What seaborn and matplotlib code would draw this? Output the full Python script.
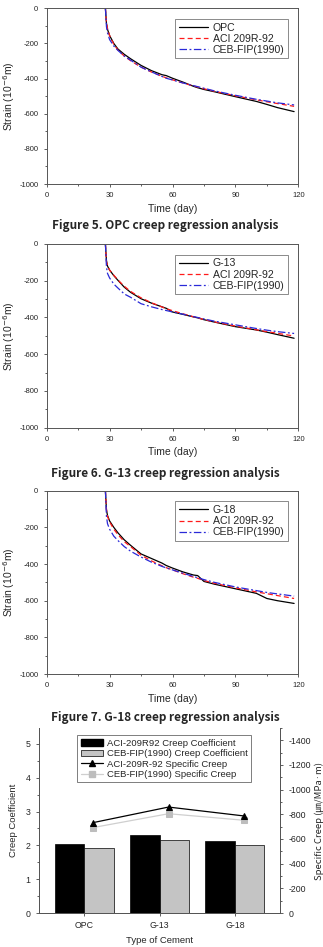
import numpy as np
import pandas as pd
import matplotlib
matplotlib.use("Agg")
import matplotlib.pyplot as plt
from matplotlib.ticker import MultipleLocator
from matplotlib.lines import Line2D
from matplotlib.patches import Patch
import seaborn as sns

# ---- creep regression data (strain, 10^-6) ----
t_days = [28, 28.5, 29, 30, 32, 34, 37, 40, 45, 50, 55, 57, 60, 65, 70, 72, 75, 80, 90, 100, 105, 110, 118]

opc_exp = [0, -85, -120, -155, -200, -232, -262, -287, -325, -355, -378, -383, -398, -420, -444, -452, -462, -475, -503, -530, -547, -565, -588]
opc_aci = [0, -80, -115, -155, -205, -238, -272, -298, -335, -363, -387, -396, -407, -425, -442, -448, -458, -472, -498, -521, -532, -542, -558]
opc_ceb = [0, -105, -140, -178, -215, -240, -272, -295, -335, -362, -388, -398, -408, -425, -440, -446, -455, -470, -495, -518, -528, -538, -550]

g13_exp = [0, -90, -120, -142, -172, -198, -235, -263, -298, -322, -342, -350, -370, -383, -397, -402, -412, -425, -450, -468, -480, -493, -513]
g13_aci = [0, -95, -118, -142, -170, -196, -230, -258, -293, -320, -343, -352, -363, -380, -396, -402, -411, -424, -447, -467, -477, -486, -501]
g13_ceb = [0, -125, -160, -185, -218, -240, -272, -290, -325, -342, -357, -362, -370, -382, -395, -400, -408, -420, -440, -460, -469, -477, -487]

g18_exp = [0, -105, -135, -165, -200, -230, -268, -298, -345, -370, -395, -408, -422, -443, -460, -463, -495, -510, -535, -560, -588, -600, -615]
g18_aci = [0, -100, -140, -170, -210, -240, -278, -305, -352, -383, -410, -420, -432, -453, -472, -478, -490, -505, -530, -552, -562, -572, -588]
g18_ceb = [0, -140, -180, -210, -248, -272, -305, -330, -362, -390, -413, -421, -432, -450, -468, -475, -485, -500, -525, -545, -555, -563, -575]

# ---- summary bar chart data ----
cements = ["OPC", "G-13", "G-18"]
coef_aci = [2.03, 2.32, 2.14]
coef_ceb = [1.92, 2.17, 2.02]
spec_aci = [-733, -859, -787]
spec_ceb = [-693, -805, -752]

sns.set_style("white")
plt.rcParams["font.family"] = ["Liberation Sans", "Noto Sans CJK KR", "DejaVu Sans"]
plt.rcParams["axes.unicode_minus"] = False

fig = plt.figure(figsize=(3.23, 9.47), dpi=100)
W, H = 323.0, 947.0
narrow = ["Liberation Sans Narrow", "Liberation Sans"]


def creep_panel(rect, exp_name, exp_vals, aci_vals, ceb_vals):
    ax = fig.add_axes(rect)
    series = [
        (exp_name, exp_vals, "black", "-"),
        ("ACI 209R-92", aci_vals, "#ff1a1a", (0, (4, 2.5))),
        ("CEB-FIP(1990)", ceb_vals, "#2a2ad8", (0, (6, 2, 1.5, 2))),
    ]
    for name, vals, col, ls in series:
        df = pd.DataFrame({"t": t_days, "strain": vals})
        sns.lineplot(data=df, x="t", y="strain", color=col, linestyle=ls,
                     linewidth=0.9, label=name, ax=ax)
    ax.set_xlim(0, 120)
    ax.set_ylim(-1000, 0)
    ax.xaxis.set_major_locator(MultipleLocator(30))
    ax.xaxis.set_minor_locator(MultipleLocator(15))
    ax.yaxis.set_major_locator(MultipleLocator(200))
    ax.yaxis.set_minor_locator(MultipleLocator(100))
    ax.tick_params(which="both", direction="out", top=False, right=False,
                   bottom=True, left=True, labelsize=5.5, width=0.6, color="#444444")
    ax.tick_params(which="major", length=2.5)
    ax.tick_params(which="minor", length=1.5)
    for s in ax.spines.values():
        s.set_linewidth(0.7)
        s.set_color("#555555")
    ax.set_xlabel("Time (day)", fontsize=7.5, labelpad=3)
    ax.set_ylabel("Strain (10$^{-6}$m)", fontsize=7.5)
    ax.yaxis.set_label_coords(-0.118, 0.5)
    leg = ax.legend(loc="upper right", bbox_to_anchor=(0.98, 0.97), fontsize=7.6,
                    frameon=True, fancybox=False, handlelength=2.8,
                    borderpad=0.35, labelspacing=0.1, handletextpad=0.4)
    leg.get_frame().set_edgecolor("#555555")
    leg.get_frame().set_linewidth(0.6)
    return ax


creep_panel([46.7 / W, 1 - 184 / H, 251.6 / W, 175.7 / H], "OPC", opc_exp, opc_aci, opc_ceb)
creep_panel([46.7 / W, 1 - 427.7 / H, 251.6 / W, 183.7 / H], "G-13", g13_exp, g13_aci, g13_ceb)
creep_panel([46.7 / W, 1 - 674 / H, 251.6 / W, 183.3 / H], "G-18", g18_exp, g18_aci, g18_ceb)

cap_kw = dict(ha="center", va="center", fontsize=8.5, fontweight="bold",
              family=["Noto Sans CJK KR", "DejaVu Sans"])
fig.text(165 / W, 1 - 226 / H, "Figure 5. OPC creep regression analysis", **cap_kw)
fig.text(165 / W, 1 - 474 / H, "Figure 6. G-13 creep regression analysis", **cap_kw)
fig.text(165 / W, 1 - 717 / H, "Figure 7. G-18 creep regression analysis", **cap_kw)

# ---- bar chart with specific creep on twin axis ----
ax = fig.add_axes([39 / W, 1 - 913 / H, 241 / W, 185 / H])
bars = pd.DataFrame({
    "cement": cements * 2,
    "coef": coef_aci + coef_ceb,
    "model": ["ACI-209R92 Creep Coefficient"] * 3 + ["CEB-FIP(1990) Creep Coefficient"] * 3,
})
sns.barplot(data=bars, x="cement", y="coef", hue="model",
            palette=["black", "#c4c4c4"], edgecolor="black", linewidth=0.5,
            width=0.78, legend=False, ax=ax)
ax.set_xlim(-0.6, 2.6)
ax.set_ylim(0, 5.47)
ax.yaxis.set_major_locator(MultipleLocator(1))
ax.yaxis.set_minor_locator(MultipleLocator(0.5))
ax.tick_params(which="both", direction="out", left=True, bottom=True,
               labelsize=6.3, width=0.6, color="#444444")
ax.tick_params(which="major", length=2.5)
ax.tick_params(which="minor", length=1.5)
ax.set_xlabel("Type of Cement", fontsize=6.8, family=narrow)
ax.xaxis.set_label_coords(0.5, -0.125)
ax.set_ylabel("Creep Coefficient", fontsize=6.8, family=narrow)
ax.yaxis.set_label_coords(-0.088, 0.5)
ax.spines["top"].set_visible(False)

ax2 = ax.twinx()
xpos = np.arange(len(cements)) + 0.12
sns.lineplot(x=xpos, y=spec_ceb, color="#cfcfcf", marker="s", markersize=4.5,
             markeredgecolor="#bdbdbd", markerfacecolor="#bdbdbd", linewidth=0.9, ax=ax2)
sns.lineplot(x=xpos, y=spec_aci, color="black", marker="^", markersize=5,
             markeredgecolor="black", linewidth=0.9, ax=ax2)
ax2.set_ylim(0, -1500)
ax2.yaxis.set_major_locator(MultipleLocator(200))
ax2.yaxis.set_minor_locator(MultipleLocator(100))
ax2.tick_params(which="both", direction="out", right=True, labelsize=6.3,
                width=0.6, color="#444444")
ax2.tick_params(which="major", length=2.5)
ax2.tick_params(which="minor", length=1.5)
ax2.set_ylabel("Specific Creep (㎛/MPa·m)", fontsize=6.8, rotation=90,
               family=["Liberation Sans Narrow", "Noto Sans CJK KR"])
ax2.yaxis.set_label_coords(1.145, 0.5)
ax2.spines["top"].set_visible(False)
for a in (ax, ax2):
    for s in a.spines.values():
        s.set_linewidth(0.7)
        s.set_color("#555555")

handles = [
    Patch(facecolor="black", edgecolor="black", label="ACI-209R92 Creep Coefficient"),
    Patch(facecolor="#c4c4c4", edgecolor="black", linewidth=0.5, label="CEB-FIP(1990) Creep Coefficient"),
    Line2D([], [], color="black", marker="^", markersize=5, linewidth=0.9, label="ACI-209R-92 Specific Creep"),
    Line2D([], [], color="#cfcfcf", marker="s", markersize=4.5, markerfacecolor="#bdbdbd",
           markeredgecolor="#bdbdbd", linewidth=0.9, label="CEB-FIP(1990) Specific Creep"),
]
leg = ax2.legend(handles=handles, loc="upper center", bbox_to_anchor=(0.52, 0.985),
                 frameon=True, fancybox=False, borderpad=0.35,
                 labelspacing=0.15, handlelength=2.4, handletextpad=0.4,
                 prop={"family": narrow, "size": 6.8})
leg.get_frame().set_edgecolor("#444444")
leg.get_frame().set_linewidth(0.6)

fig.savefig("out.png", dpi=100)
